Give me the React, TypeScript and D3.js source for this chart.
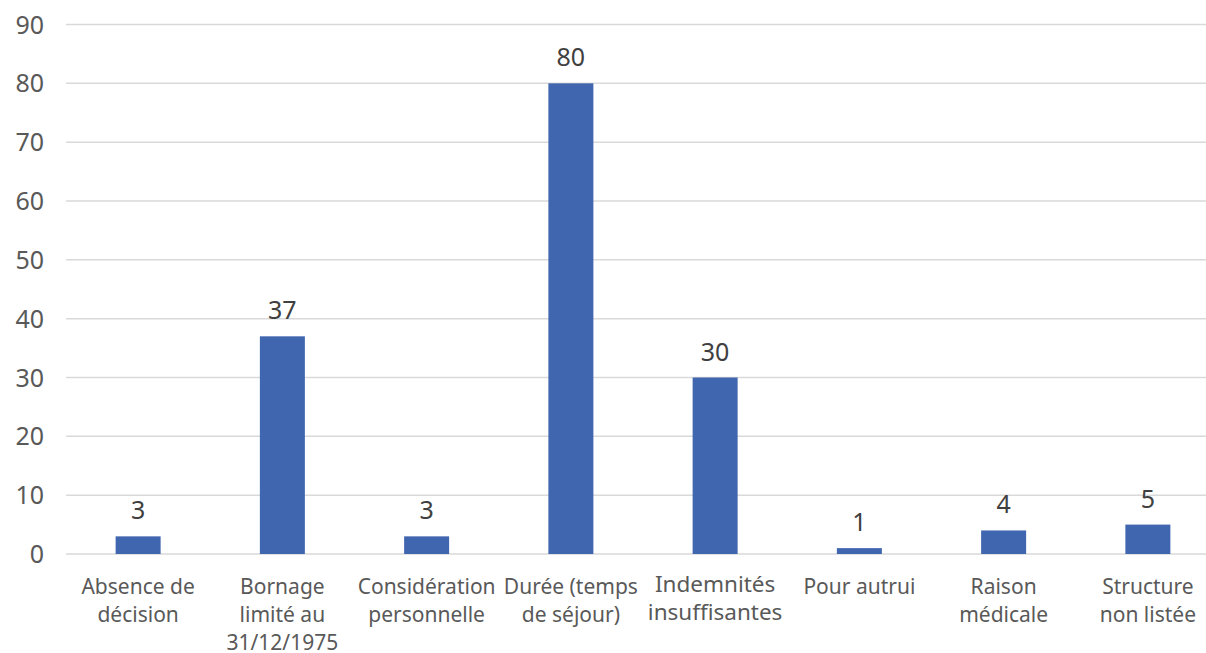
import React, { useEffect, useRef } from "react";
import * as d3 from "d3";

const categories = [
  "Absence de|décision",
  "Bornage|limité au|31/12/1975",
  "Considération|personnelle",
  "Durée (temps|de séjour)",
  "Indemnités|insuffisantes",
  "Pour autrui",
  "Raison|médicale",
  "Structure|non listée",
];
const values = [3, 37, 3, 80, 30, 1, 4, 5];
const yTicks = [0, 10, 20, 30, 40, 50, 60, 70, 80, 90];

const W = 1206;
const H = 653;
const FONT = "'Noto Sans', 'Open Sans', sans-serif";

const App: React.FC = () => {
  const svgRef = useRef<SVGSVGElement | null>(null);

  useEffect(() => {
    if (!svgRef.current) return;
    const svg = d3.select(svgRef.current);
    svg.selectAll("*").remove();

    const x = d3
      .scaleBand<string>()
      .domain(categories)
      .range([66, 1220])
      .paddingInner(0.688)
      .paddingOuter(0.344);

    const y = d3.scaleLinear().domain([0, 90]).range([554, 24.5]);

    // gridlines
    svg
      .append("g")
      .selectAll("line")
      .data(yTicks)
      .enter()
      .append("line")
      .attr("x1", 66)
      .attr("x2", W)
      .attr("y1", (d) => y(d))
      .attr("y2", (d) => y(d))
      .attr("stroke", "#d9d9d9")
      .attr("stroke-width", 1.5);

    // y tick labels
    svg
      .append("g")
      .selectAll("text")
      .data(yTicks)
      .enter()
      .append("text")
      .attr("x", 44)
      .attr("y", (d) => y(d))
      .attr("dy", "0.36em")
      .attr("text-anchor", "end")
      .style("font-family", FONT)
      .style("font-size", "25px")
      .style("fill", "#595959")
      .text((d) => d);

    // bars
    svg
      .append("g")
      .selectAll("rect")
      .data(values)
      .enter()
      .append("rect")
      .attr("x", (_, i) => x(categories[i]) ?? 0)
      .attr("width", x.bandwidth())
      .attr("y", (d) => y(d))
      .attr("height", (d) => y(0) - y(d))
      .attr("fill", "#4166b0");

    // value labels
    svg
      .append("g")
      .selectAll("text")
      .data(values)
      .enter()
      .append("text")
      .attr("x", (_, i) => (x(categories[i]) ?? 0) + x.bandwidth() / 2)
      .attr("y", (d) => y(d) - 17)
      .attr("text-anchor", "middle")
      .style("font-family", FONT)
      .style("font-size", "25px")
      .style("fill", "#404040")
      .text((d) => d);

    // category labels
    const cat = svg
      .append("g")
      .selectAll("text")
      .data(categories)
      .enter()
      .append("text")
      .attr("x", (d) => (x(d) ?? 0) + x.bandwidth() / 2)
      .attr("y", (d) => (d.startsWith("Indemnités") ? 584 : 587))
      .attr("text-anchor", "middle")
      .style("font-family", FONT)
      .style("font-size", (d) => (d.startsWith("Indemnités") ? "22.5px" : "21px"))
      .style("fill", "#595959");

    cat
      .selectAll("tspan")
      .data((d) => d.split("|"))
      .enter()
      .append("tspan")
      .attr("x", function () {
        return (this.parentNode as SVGTextElement).getAttribute("x");
      })
      .attr("dy", (_, i) => (i === 0 ? "0.35em" : "28px"))
      .text((d) => d);
  }, []);

  return (
    <div style={{ position: "fixed", left: 0, top: 0, background: "#fff" }}>
      <svg ref={svgRef} width={W} height={H} />
    </div>
  );
};

export default App;
